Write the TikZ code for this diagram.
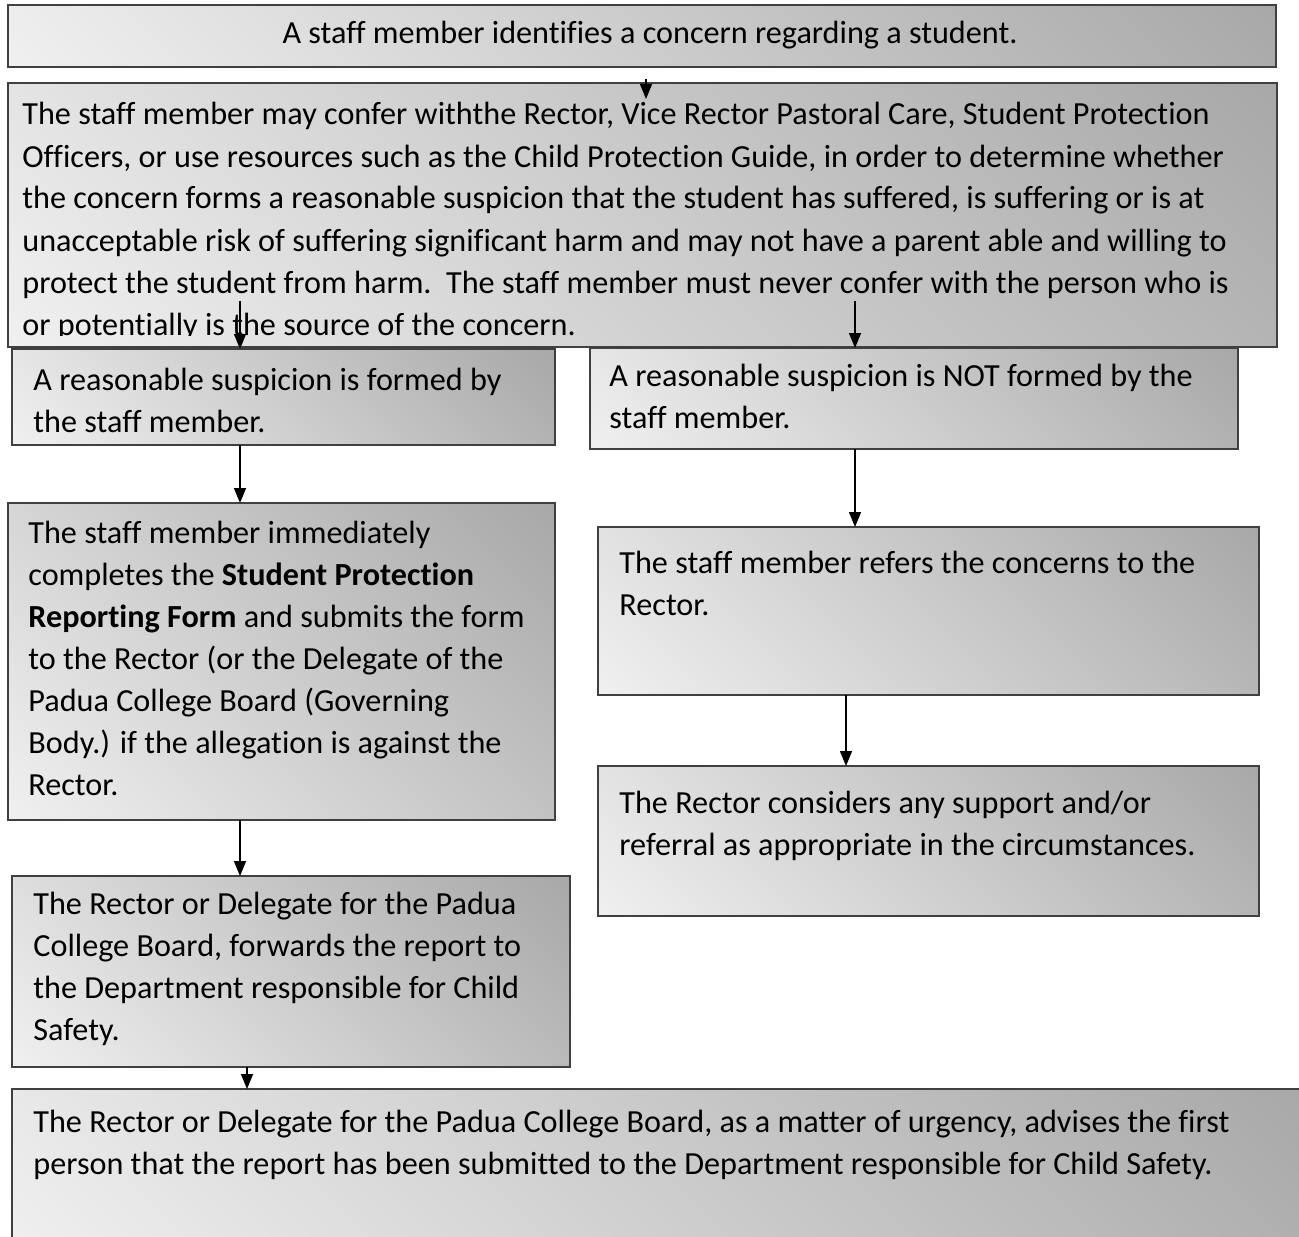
\documentclass[tikz,border=0pt]{standalone}
\usepackage{fontspec}
\setmainfont{Carlito}[Ligatures=NoCommon]
\usepackage{tikz}
\usetikzlibrary{arrows.meta}
% light in the bottom left corner, dark in the top right corner
\pgfdeclareverticalshading{boxshade}{100bp}{color(0bp)=(white); color(100bp)=(black!40)}
\tikzset{
    >={Triangle[length=7.5pt, width=6pt]}, % filled arrow heads
    box/.style={draw=black!75, line width=0.75pt, anchor=north west, outer sep=0pt,
        shade, shading=boxshade, shading angle=-45}, % shaded boxes
    txt/.style={anchor=base west, inner sep=0pt, text width=640pt, align=flush left,
        font=\fontsize{16.1}{21}\selectfont}, % text inside the boxes
    flow/.style={->, line width=0.75pt}, % connectors
}

\begin{document}
\begin{tikzpicture}[x=0.5pt, y=-0.5pt]
    \useasboundingbox (0,0) rectangle (1299,1236);

    \node[box, minimum width=634pt, minimum height=31pt] (Id) at (8,5) {};
    \node[box, minimum width=634.5pt, minimum height=132pt] (Confer) at (8,83) {};
    \node[box, minimum width=271.5pt, minimum height=48pt] (Formed) at (12,349) {};
    \node[box, minimum width=324pt, minimum height=50.5pt] (NotFormed) at (590,348) {};
    \node[box, minimum width=273.5pt, minimum height=158.5pt] (Report) at (8,503) {};
    \node[box, minimum width=330.5pt, minimum height=84pt] (Refer) at (598,527) {};
    \node[box, minimum width=330.5pt, minimum height=75pt] (Support) at (598,766) {};
    \node[box, minimum width=279pt, minimum height=95.5pt] (Forward) at (12,876) {};
    \node[box, minimum width=650pt, minimum height=85pt] (Advise) at (12,1089) {};

    \node[txt, anchor=base, align=flush center] (IdT) at ([shift={(8,39)}]Id.north)
        {A staff member identifies a concern regarding a student.};
    \begin{scope}
        \clip (Confer.north west) rectangle ([yshift=6pt]Confer.south east);
        \node[txt] (ConferT) at ([shift={(14,42)}]Confer.north west)
            {The staff member may confer withthe Rector, Vice Rector Pastoral Care, Student Protection\\
             Officers, or use resources such as the Child Protection Guide, in order to determine whether\\
             the concern forms a reasonable suspicion that the student has suffered, is suffering or is at\\
             unacceptable risk of suffering significant harm and may not have a parent able and willing to\\
             protect the student from harm.\ \ The staff member must never confer with the person who is\\
             or potentially is the source of the concern.};
    \end{scope}
    \node[txt] (FormedT) at ([shift={(21,41)}]Formed.north west)
        {A reasonable suspicion is formed by\\the staff member.};
    \node[txt] (NotFormedT) at ([shift={(19,38)}]NotFormed.north west)
        {A reasonable suspicion is NOT formed by the\\staff member.};
    \node[txt] (ReportT) at ([shift={(20,40)}]Report.north west)
        {The staff member immediately\\
         completes the \textbf{Student Protection}\\
         \textbf{Reporting Form} and submits the form\\
         to the Rector (or the Delegate of the\\
         Padua College Board (Governing\\
         Body.) if the allegation is against the\\
         Rector.};
    \node[txt] (ReferT) at ([shift={(21,46)}]Refer.north west)
        {The staff member refers the concerns to the\\Rector.};
    \node[txt] (SupportT) at ([shift={(21,47)}]Support.north west)
        {The Rector considers any support and/or\\referral as appropriate in the circumstances.};
    \node[txt] (ForwardT) at ([shift={(21,38)}]Forward.north west)
        {The Rector or Delegate for the Padua\\
         College Board, forwards the report to\\
         the Department responsible for Child\\
         Safety.};
    \node[txt] (AdviseT) at ([shift={(21,43)}]Advise.north west)
        {The Rector or Delegate for the Padua College Board, as a matter of urgency, advises the first\\
         person that the report has been submitted to the Department responsible for Child Safety.};

    % connectors
    \coordinate (top) at (646,79);
    \coordinate (left) at (240,301);
    \coordinate (right) at (855,301);
    \coordinate (mid) at (846,0);
    \coordinate (low) at (247,0);
    \draw[flow] (top) -- ([yshift=-8pt]top |- Confer.north);
    \draw[flow] (left) -- (left |- Formed.north);
    \draw[flow] (right) -- (right |- NotFormed.north);
    \draw[flow] (left |- Formed.south) -- (left |- Report.north);
    \draw[flow] (right |- NotFormed.south) -- (right |- Refer.north);
    \draw[flow] (mid |- Refer.south) -- (mid |- Support.north);
    \draw[flow] (left |- Report.south) -- (left |- Forward.north);
    \draw[flow] (low |- Forward.south) -- (low |- Advise.north);
\end{tikzpicture}
\end{document}
